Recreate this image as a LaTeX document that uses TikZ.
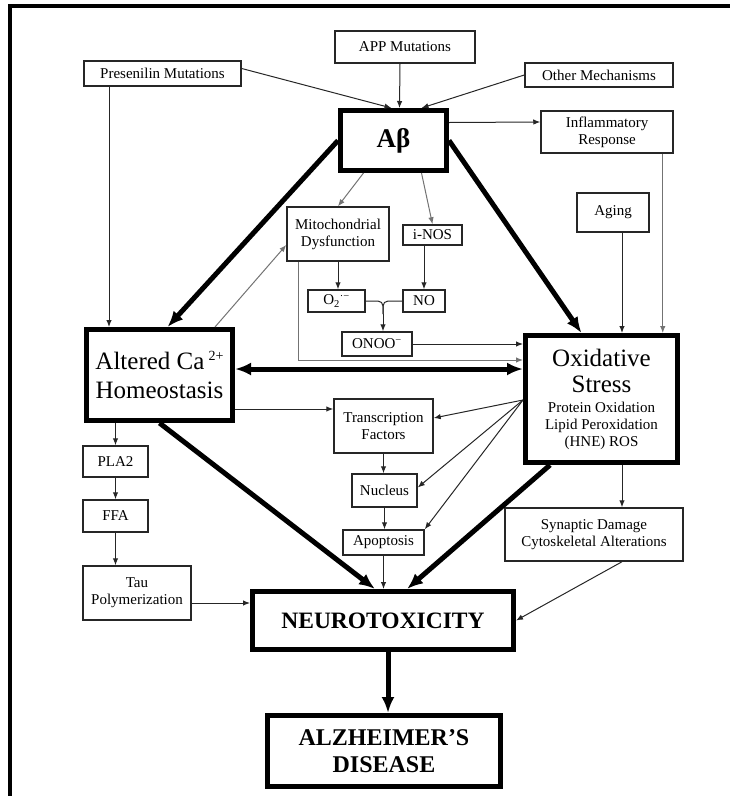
\documentclass[tikz,border=0pt]{standalone}
\usepackage{fontspec}
\setmainfont{Liberation Serif}
\usetikzlibrary{arrows.meta}
\tikzset{
 box/.style={draw=black!85,line width=1.5pt,fill=white,align=center,inner sep=0pt,font=\fontsize{15}{17}\selectfont},
 bigbox/.style={box,draw=black,line width=5pt,font=\fontsize{25}{29}\selectfont},
 arr/.style={-{Latex[length=7pt,width=5.5pt]},line width=1pt,draw=black!85},
 lite/.style={arr,draw=black!55},
 heavy/.style={-{Latex[length=16pt,width=13pt]},line width=5pt,draw=black},
 frame/.style={line width=4pt,draw=black}
}
\begin{document}
\begin{tikzpicture}[x=1pt,y=-1pt]
\useasboundingbox (0,0) rectangle (730,796);
\draw[frame] (10,796) -- (10,6) -- (730,6);
\node[box,minimum width=157,minimum height=25] (presen) at (162.5,73.5) {Presenilin Mutations};
\node[box,minimum width=140,minimum height=32] (app) at (405,47) {APP Mutations};
\node[box,minimum width=148,minimum height=24] (other) at (599,75) {Other Mechanisms};
\node[bigbox,minimum width=106,minimum height=60,font=\fontsize{27}{30}\selectfont\bfseries] (abeta) at (393.5,140.5) {Aβ};
\node[box,minimum width=132,minimum height=42] (inflam) at (607,132) {Inflammatory\\Response};
\node[box,minimum width=102,minimum height=54] (mito) at (338,234) {Mitochondrial\\Dysfunction};
\node[box,minimum width=59,minimum height=20] (inos) at (432.5,235) {i-NOS};
\node[box,minimum width=72,minimum height=39] (aging) at (613,212.5) {Aging};
\node[box,minimum width=57,minimum height=22] (o2) at (336.5,301) {O\textsubscript{2}\textsuperscript{·−}};
\node[box,minimum width=42,minimum height=22] (no) at (424,301) {NO};
\node[box,minimum width=70,minimum height=24] (onoo) at (377,344) {ONOO\textsuperscript{−}};
\node[bigbox,minimum width=146,minimum height=91] (ca) at (159.5,375) {Altered Ca\,\raisebox{9pt}{\fontsize{14}{14}\selectfont 2+}\\Homeostasis};
\node[bigbox,minimum width=152,minimum height=127,font=\fontsize{15}{17}\selectfont] (os) at (601.5,399)
 {{\fontsize{25}{29}\selectfont Oxidative}\\[9pt]{\fontsize{25}{29}\selectfont Stress}\\[3pt]Protein Oxidation\\Lipid Peroxidation\\(HNE) ROS};
\node[box,minimum width=99,minimum height=54] (tf) at (383.5,426) {Transcription\\Factors};
\node[box,minimum width=65,minimum height=33] (nucleus) at (384.5,490.5) {Nucleus};
\node[box,minimum width=81,minimum height=25] (apop) at (383.5,542.5) {Apoptosis};
\node[box,minimum width=178,minimum height=53] (synap) at (594,534.5) {Synaptic Damage\\Cytoskeletal Alterations};
\node[box,minimum width=65,minimum height=31] (pla2) at (115.5,461.5) {PLA2};
\node[box,minimum width=65,minimum height=32] (ffa) at (115.5,516) {FFA};
\node[box,minimum width=108,minimum height=54] (tau) at (137,593) {Tau\\Polymerization};
\node[bigbox,minimum width=261,minimum height=58,font=\fontsize{23.5}{27}\selectfont\bfseries] (neuro) at (383,620.5) {NEUROTOXICITY};
\node[bigbox,minimum width=233,minimum height=71,font=\fontsize{24}{27}\selectfont\bfseries] (ad) at (384,751) {ALZHEIMER’S\\DISEASE};

\coordinate (pr1) at ([xshift=-53.5pt]presen.south);
\coordinate (inf1) at ([xshift=-11pt]inflam.south east);
\coordinate (ag1) at ([xshift=9pt]aging.south);
\coordinate (mi1) at ([xshift=12pt]mito.south west);
\coordinate (os1) at ([yshift=39pt]os.west);
\coordinate (ca1) at ([yshift=6pt]ca.east);
\coordinate (tf1) at ([yshift=17pt]tf.west);
\coordinate (os2) at ([xshift=20.5pt]os.south);
\coordinate (tau1) at ([yshift=-10pt]tau.east);
\coordinate (nt1) at ([xshift=5pt]neuro.south);
\coordinate (j) at (383,314);

\draw[arr] ([yshift=5pt]presen.east) -- ([xshift=-2pt]abeta.north);
\draw[arr] ([xshift=-5pt]app.south) -- ([xshift=6pt]abeta.north);
\draw[arr] (other.west) -- ([xshift=28pt]abeta.north);
\draw[arr] ([yshift=18pt]abeta.east) -- ([yshift=10pt]inflam.west);
\draw[arr] (pr1) -- (pr1 |- ca.north);
\draw[lite] ([xshift=-30pt]abeta.south) -- (mito.north);
\draw[lite] ([xshift=28pt]abeta.south) -- (inos.north);
\draw[heavy] (abeta.west) -- ([xshift=8pt]ca.north);
\draw[heavy] (abeta.east) -- ([xshift=-20pt]os.north);
\draw[lite] (inf1) -- (inf1 |- os.north);
\draw[arr] (ag1) -- (ag1 |- os.north);
\draw[lite] ([xshift=-20pt]ca.north east) -- ([yshift=-11pt]mito.west);
\draw[arr] (mito.south) -- (mito.south |- o2.north);
\draw[arr] (no.north |- inos.south) -- (no.north);
\draw[arr,-,rounded corners=5pt] (o2.east) -| (j);
\draw[arr,-,rounded corners=5pt] (no.west) -| (j);
\draw[arr] (j) -- (j |- onoo.north);
\draw[arr] (onoo.east) -- (onoo.east -| os.west);
\draw[lite] (mi1) |- (os1);
\draw[heavy,{Latex[length=16pt,width=13pt]}-{Latex[length=16pt,width=13pt]}] (ca1) -- (ca1 -| os.west);
\draw[arr] (tf1 -| ca.east) -- (tf1);
\draw[arr] ([yshift=-1pt]os.west) -- ([yshift=8pt]tf.east);
\draw[arr] ([yshift=-1pt]os.west) -- ([yshift=3pt]nucleus.east);
\draw[arr] ([yshift=-1pt]os.west) -- (apop.north east);
\draw[arr] (tf.south) -- (tf.south |- nucleus.north);
\draw[arr] (nucleus.south) -- (nucleus.south |- apop.north);
\draw[arr] (apop.south) -- (apop.south |- neuro.north);
\draw[heavy] (ca.south) -- ([xshift=-8pt]neuro.north);
\draw[heavy] ([xshift=27pt]os.south west) -- ([xshift=24pt]neuro.north);
\draw[arr] (os2) -- (os2 |- synap.north);
\draw[arr] ([xshift=28pt]synap.south) -- (neuro.east);
\draw[arr] (pla2.north |- ca.south) -- (pla2.north);
\draw[arr] (pla2.south) -- (ffa.north);
\draw[arr] (ffa.south) -- (ffa.south |- tau.north);
\draw[arr] (tau1) -- (tau1 -| neuro.west);
\draw[heavy] (nt1) -- (nt1 |- ad.north);
\end{tikzpicture}
\end{document}
